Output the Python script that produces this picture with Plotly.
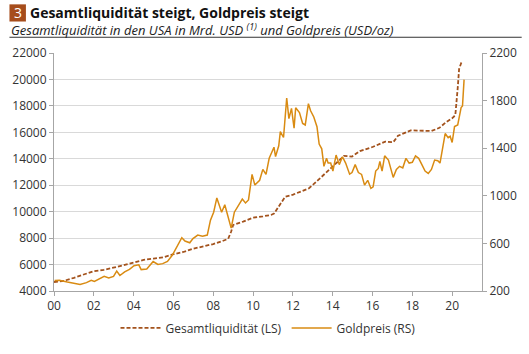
import plotly.graph_objects as go

# Gesamtliquidität (LS), Mrd. USD
liq_years = [2000.0, 2000.5, 2001.0, 2001.5, 2002.0, 2002.5, 2003.0, 2003.5, 2004.0, 2004.5,
             2005.0, 2005.5, 2006.0, 2006.5, 2007.0, 2007.5, 2008.0, 2008.5, 2008.75, 2008.9,
             2009.0, 2009.5, 2010.0, 2010.5, 2010.9, 2011.05, 2011.38, 2011.61, 2012.01, 2012.81,
             2013.29, 2014.01, 2014.57, 2014.97, 2015.37, 2016.0, 2016.64, 2017.04, 2017.28, 2017.92,
             2018.56, 2018.96, 2019.36, 2019.68, 2020.0, 2020.16, 2020.28, 2020.35, 2020.45, 2020.52]
liq_values = [4680, 4770, 5000, 5280, 5500, 5600, 5750, 5950, 6150, 6350,
              6450, 6550, 6780, 6950, 7200, 7380, 7550, 7800, 7950, 8500,
              9000, 9250, 9550, 9650, 9750, 9850, 10570, 11120, 11290, 11770,
              12420, 13450, 14220, 14170, 14580, 14890, 15300, 15250, 15740, 16150,
              16150, 16100, 16340, 16750, 17060, 17300, 19350, 20790, 21220, 21150]

# Goldpreis (RS), USD/oz
gold_years = [2000.03, 2000.27, 2000.67, 2000.99, 2001.31, 2001.63, 2001.87, 2002.03, 2002.52, 2002.75,
              2002.99, 2003.15, 2003.31, 2003.55, 2003.79, 2004.02, 2004.26, 2004.38, 2004.66, 2004.98,
              2005.22, 2005.46, 2005.70, 2005.94, 2006.18, 2006.42, 2006.58, 2006.82, 2006.98, 2007.22,
              2007.46, 2007.70, 2007.86, 2008.02, 2008.18, 2008.42, 2008.58, 2008.74, 2008.90, 2009.06,
              2009.30, 2009.46, 2009.62, 2009.77, 2009.95, 2010.09, 2010.33, 2010.49, 2010.65, 2010.81,
              2011.05, 2011.13, 2011.29, 2011.37, 2011.53, 2011.69, 2011.80, 2011.93, 2012.06, 2012.14,
              2012.33, 2012.49, 2012.62, 2012.78, 2012.89, 2013.05, 2013.21, 2013.32, 2013.45, 2013.56,
              2013.69, 2013.77, 2013.90, 2014.01, 2014.17, 2014.33, 2014.49, 2014.65, 2014.85, 2014.97,
              2015.13, 2015.29, 2015.45, 2015.60, 2015.76, 2015.92, 2016.03, 2016.16, 2016.29, 2016.37,
              2016.48, 2016.61, 2016.80, 2016.93, 2017.04, 2017.20, 2017.36, 2017.52, 2017.68, 2017.84,
              2018.00, 2018.16, 2018.32, 2018.48, 2018.64, 2018.80, 2018.96, 2019.12, 2019.28, 2019.39,
              2019.52, 2019.65, 2019.80, 2019.90, 2020.00, 2020.12, 2020.28, 2020.45, 2020.52, 2020.60]
gold_values = [288, 290, 275, 262, 254, 270, 290, 280, 323, 310,
               323, 368, 330, 360, 382, 413, 420, 380, 385, 448,
               423, 430, 448, 500, 568, 648, 620, 605, 640, 670,
               660, 670, 795, 862, 982, 862, 925, 822, 728, 862,
               925, 973, 940, 965, 1180, 1090, 1130, 1222, 1180, 1315,
               1408, 1330, 1420, 1540, 1490, 1822, 1648, 1735, 1568, 1740,
               1700, 1608, 1595, 1774, 1715, 1662, 1580, 1435, 1395, 1248,
               1315, 1275, 1275, 1208, 1342, 1262, 1328, 1275, 1182, 1195,
               1262, 1195, 1180, 1090, 1130, 1062, 1075, 1208, 1230, 1288,
               1208, 1336, 1300, 1208, 1155, 1222, 1248, 1235, 1315, 1275,
               1282, 1336, 1315, 1262, 1208, 1188, 1222, 1300, 1295, 1275,
               1408, 1523, 1488, 1500, 1448, 1582, 1595, 1742, 1755, 1976]

x_tickvals = [2000, 2002, 2004, 2006, 2008, 2010, 2012, 2014, 2016, 2018, 2020]
x_ticktext = ["00", "02", "04", "06", "08", "10", "12", "14", "16", "18", "20"]
left_ticks = [4000, 6000, 8000, 10000, 12000, 14000, 16000, 18000, 20000, 22000]
right_ticks = [200, 600, 1000, 1400, 1800, 2200]

FONT = "Open Sans"
DASH_COL = "#a3521c"
GOLD_COL = "#d98b12"
AX_COL = "#a6a6a6"
PW, PH = 442, 249.5  # plot area size in px

fig = go.Figure()
fig.add_trace(go.Scatter(x=liq_years, y=liq_values, mode="lines", name="Gesamtliquidität (LS)",
                         line=dict(color=DASH_COL, width=1.8, dash="4px,2px"), yaxis="y"))
fig.add_trace(go.Scatter(x=gold_years, y=gold_values, mode="lines", name="Goldpreis (RS)",
                         line=dict(color=GOLD_COL, width=1.5), yaxis="y2"))

fig.update_layout(
    width=529, height=354,
    margin=dict(l=46, r=41, t=53, b=51.5),
    paper_bgcolor="white", plot_bgcolor="white",
    font=dict(family=FONT, size=12, color="#333333"),
    showlegend=True,
    legend=dict(orientation="h", x=0.5, xanchor="center", y=-0.155, yanchor="middle",
                font=dict(family=FONT, size=12, color="#333333"), itemwidth=40,
                traceorder="normal"),
    xaxis=dict(range=[2000, 2021.5], tickvals=x_tickvals, ticktext=x_ticktext,
               showgrid=False, zeroline=False, showline=True, linecolor=AX_COL, linewidth=1,
               ticks="outside", ticklen=4, tickcolor=AX_COL, tickfont=dict(size=12, color="#333333")),
    yaxis=dict(range=[4000, 22000], tickvals=left_ticks, tickformat="d", showgrid=True,
               gridcolor="#d9d9d9", gridwidth=1, zeroline=False, showline=True, linecolor=AX_COL,
               linewidth=1, ticks="outside", ticklen=4, tickcolor=AX_COL,
               tickfont=dict(size=12, color="#333333")),
    yaxis2=dict(range=[200, 2200], tickvals=right_ticks, tickformat="d", overlaying="y", side="right",
                showgrid=False, zeroline=False, showline=True, linecolor=AX_COL, linewidth=1,
                ticks="outside", ticklen=4, tickcolor=AX_COL, tickfont=dict(size=12, color="#333333")),
)

# Header
fig.add_shape(type="rect", xref="paper", yref="paper", x0=-46/PW, x1=-29/PW,
              y0=1 + (53-20)/PH, y1=1 + (53-2)/PH, fillcolor="#a64d1c", line=dict(width=0))
fig.add_annotation(xref="paper", yref="paper", x=-37.5/PW, y=1 + (53-11)/PH, text="3",
                   showarrow=False, font=dict(family=FONT, size=14, color="white"),
                   xanchor="center", yanchor="middle", borderpad=0)
fig.add_annotation(xref="paper", yref="paper", x=-26/PW, y=1 + (53-10.5)/PH,
                   text="<b>Gesamtliquidität steigt, Goldpreis steigt</b>",
                   showarrow=False, font=dict(family=FONT, size=14, color="#111111"),
                   xanchor="left", yanchor="middle", borderpad=0)
fig.add_annotation(xref="paper", yref="paper", x=-45/PW, y=1 + (53-28.5)/PH,
                   text="<i>Gesamtliquidität in den USA in Mrd. USD <sup>(1)</sup> und Goldpreis (USD/oz)</i>",
                   showarrow=False, font=dict(family=FONT, size=13, color="#222222"),
                   xanchor="left", yanchor="middle", borderpad=0)
fig.add_shape(type="line", xref="paper", yref="paper", x0=-46/PW, x1=(529-46)/PW,
              y0=1 + (53-36.5)/PH, y1=1 + (53-36.5)/PH, line=dict(color="#333333", width=1))

fig.write_html("out.html")
